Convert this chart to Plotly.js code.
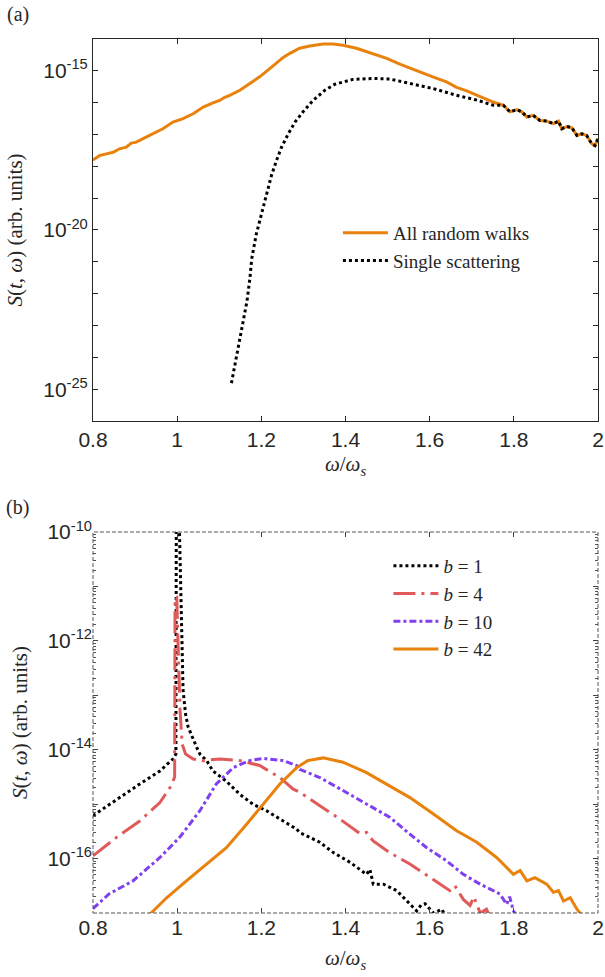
<!DOCTYPE html>
<html>
<head>
<meta charset="utf-8">
<script src="https://cdn.plot.ly/plotly-3.0.1.min.js"></script>
<style>html,body{margin:0;padding:0;background:#fff;}</style>
</head>
<body>
<div id="chart" style="width:605px;height:977px;"></div>
<script>
// ---------- Panel (a) data (x = omega/omega_s, values given as log10 S) ----------
const aAllX = [0.800,0.816,0.832,0.848,0.863,0.879,0.891,0.903,0.919,0.943,
  0.966,0.990,1.014,1.038,1.062,1.085,1.101,1.113,1.125,1.149,1.172,
  1.196,1.220,1.236,1.252,1.268,1.284,1.291,1.315,1.347,1.371,
  1.394,1.426,1.450,1.474,1.498,1.529,1.553,1.585,1.609,1.640,
  1.664,1.688,1.712,1.735,1.751,1.775,1.791,1.807,1.819,1.831,
  1.846,1.862,1.878,1.894,1.906,1.914,1.926,1.938,1.950,1.962,
  1.973,1.985,1.993,2.000];
const aAllLog = [-17.80,-17.66,-17.61,-17.56,-17.45,-17.40,-17.27,-17.24,-17.13,-16.98,
  -16.82,-16.61,-16.50,-16.35,-16.14,-16.01,-15.93,-15.83,-15.77,-15.61,-15.40,
  -15.19,-14.93,-14.75,-14.58,-14.45,-14.35,-14.29,-14.22,-14.16,-14.16,
  -14.20,-14.29,-14.40,-14.50,-14.61,-14.79,-14.92,-15.08,-15.20,-15.35,
  -15.52,-15.63,-15.77,-15.90,-15.98,-16.08,-16.29,-16.22,-16.29,-16.45,
  -16.40,-16.56,-16.58,-16.66,-16.58,-16.82,-16.75,-16.79,-17.03,-16.98,
  -17.03,-17.29,-17.35,-17.13];

const aSingleX = [1.129,1.143,1.156,1.166,1.173,1.177,1.188,1.200,1.212,1.224,
  1.236,1.248,1.264,1.280,1.299,1.323,1.351,1.375,1.418,1.466,
  1.506,1.553,1.609,1.664,1.712,1.751,1.775,1.791,1.807,1.819,
  1.831,1.846,1.862,1.878,1.894,1.906,1.914,1.926,1.938,1.950,
  1.962,1.973,1.985,1.993,2.000];
const aSingleLog = [-24.81,-23.81,-22.97,-22.23,-21.50,-20.92,-20.13,-19.50,-18.87,-18.29,
  -17.82,-17.40,-16.98,-16.61,-16.29,-15.93,-15.61,-15.42,-15.27,-15.24,
  -15.26,-15.40,-15.56,-15.77,-15.92,-16.08,-16.08,-16.29,-16.22,-16.29,
  -16.45,-16.40,-16.56,-16.58,-16.66,-16.58,-16.82,-16.75,-16.79,-17.03,
  -16.98,-17.03,-17.29,-17.35,-17.13];

// ---------- Panel (b) data ----------
const b1X = [0.800,0.856,0.911,0.959,0.990,0.997,0.998,1.004,1.007,1.011,
  1.014,1.020,1.026,1.046,1.054,1.070,1.085,1.117,1.149,1.180,
  1.212,1.252,1.284,1.291,1.339,1.371,1.411,1.450,1.458,1.466,
  1.490,1.522,1.545,1.569,1.580,1.589,1.609,1.629,1.640];
const b1Log = [-15.21,-14.91,-14.63,-14.39,-14.17,-14.08,-9.50,-9.50,-10.50,-12.00,
  -12.90,-13.35,-13.58,-13.95,-14.08,-14.20,-14.39,-14.58,-14.82,-15.00,
  -15.12,-15.31,-15.46,-15.52,-15.70,-15.89,-16.07,-16.29,-16.20,-16.47,
  -16.47,-16.59,-16.78,-16.96,-16.85,-16.83,-17.00,-16.93,-17.10];

const b4X = [0.800,0.856,0.911,0.959,0.986,0.994,0.995,0.999,1.003,1.007,
  1.012,1.020,1.038,1.062,1.101,1.149,1.196,1.244,1.275,1.291,
  1.339,1.386,1.434,1.450,1.465,1.505,1.553,1.609,1.648,1.660,
  1.680,1.696,1.705,1.720,1.735,1.745];
const b4Log = [-15.95,-15.61,-15.31,-14.97,-14.66,-14.50,-11.20,-11.20,-12.30,-13.30,
  -13.90,-14.08,-14.17,-14.20,-14.17,-14.20,-14.29,-14.51,-14.72,-14.78,
  -15.03,-15.27,-15.54,-15.52,-15.67,-15.89,-16.10,-16.38,-16.59,-16.50,
  -16.75,-16.86,-16.70,-17.00,-16.93,-17.10];

const b10X = [0.800,0.838,0.895,0.959,1.006,1.054,1.093,1.133,1.172,1.204,
  1.252,1.284,1.291,1.339,1.394,1.450,1.505,1.553,1.593,1.640,
  1.680,1.720,1.751,1.767,1.783,1.790,1.799,1.810];
const b10Log = [-16.92,-16.65,-16.41,-15.98,-15.61,-15.12,-14.63,-14.33,-14.20,-14.16,
  -14.20,-14.29,-14.36,-14.51,-14.75,-15.00,-15.24,-15.55,-15.80,-16.04,
  -16.29,-16.47,-16.59,-16.65,-16.84,-16.70,-16.96,-17.10];

const b42X = [0.925,0.975,1.022,1.070,1.117,1.165,1.204,1.244,1.284,1.310,
  1.347,1.394,1.450,1.505,1.553,1.609,1.664,1.712,1.759,1.799,
  1.815,1.831,1.850,1.878,1.894,1.906,1.918,1.934,1.950,1.962];
const b42Log = [-17.10,-16.72,-16.41,-16.10,-15.80,-15.37,-15.00,-14.63,-14.33,-14.20,
  -14.15,-14.23,-14.42,-14.66,-14.88,-15.18,-15.49,-15.70,-15.98,-16.29,
  -16.22,-16.41,-16.35,-16.47,-16.62,-16.59,-16.78,-16.72,-16.93,-17.05];

// ---------- Tick labels ----------
const xTickVals = [0.8, 1, 1.2, 1.4, 1.6, 1.8, 2];
const aYTickVals = [1e-25, 1e-20, 1e-15];
const aYTickText = ['10<sup>-25</sup>', '10<sup>-20</sup>', '10<sup>-15</sup>'];
const aYMinorVals = [1e-26,1e-25,1e-24,1e-23,1e-22,1e-21,1e-20,1e-19,1e-18,1e-17,1e-16,1e-15,1e-14];
const bYTickVals = [1e-17, 1e-16, 1e-15, 1e-14, 1e-13, 1e-12, 1e-11, 1e-10];
const bYTickText = ['', '10<sup>-16</sup>', '', '10<sup>-14</sup>', '', '10<sup>-12</sup>', '', '10<sup>-10</sup>'];

const legendA = ['All random walks', 'Single scattering'];
const legendB = ['<i>b</i> = 1', '<i>b</i> = 4', '<i>b</i> = 10', '<i>b</i> = 42'];

// ---------- helpers ----------
const pow10 = arr => arr.map(v => Math.pow(10, v));
const bMinorVals = [];
for (let e = -17; e < -10; e++) {
  for (let m = 2; m <= 9; m++) bMinorVals.push(m * Math.pow(10, e));
}

const ORANGE = '#e8820c', RED = '#e05a5a', PURPLE = '#8040f0', BLACK = '#000000';
const AX = '#262626';
const tickFont = {family: 'Liberation Sans, Arial, sans-serif', size: 21, color: AX};
const serif = 'Liberation Serif, Times New Roman, serif';

const traces = [
  {x: aAllX, y: pow10(aAllLog), xaxis: 'x', yaxis: 'y', mode: 'lines', name: legendA[0],
   line: {color: ORANGE, width: 3}, legend: 'legend'},
  {x: aSingleX, y: pow10(aSingleLog), xaxis: 'x', yaxis: 'y', mode: 'lines', name: legendA[1],
   line: {color: BLACK, width: 3, dash: 'dot'}, legend: 'legend'},
  {x: b1X, y: pow10(b1Log), xaxis: 'x2', yaxis: 'y2', mode: 'lines', name: legendB[0],
   line: {color: BLACK, width: 3, dash: 'dot'}, legend: 'legend2'},
  {x: b4X, y: pow10(b4Log), xaxis: 'x2', yaxis: 'y2', mode: 'lines', name: legendB[1],
   line: {color: RED, width: 3, dash: '22px,6px,3px,6px'}, legend: 'legend2'},
  {x: b10X, y: pow10(b10Log), xaxis: 'x2', yaxis: 'y2', mode: 'lines', name: legendB[2],
   line: {color: PURPLE, width: 3, dash: '7px,3px,3px,3px'}, legend: 'legend2'},
  {x: b42X, y: pow10(b42Log), xaxis: 'x2', yaxis: 'y2', mode: 'lines', name: legendB[3],
   line: {color: ORANGE, width: 3}, legend: 'legend2'}
];

const xTitleText = '<i>ω</i>/<i>ω</i><sub><i>s</i></sub>';
const yTitle = {text: '<i>S</i>(<i>t</i>, <i>ω</i>) (arb. units)', font: {family: serif, size: 21, color: AX}, standoff: 14};

const baseX = {
  range: [0.8, 2], tickmode: 'array', tickvals: xTickVals, ticks: 'inside', ticklen: 5,
  tickcolor: AX, tickfont: tickFont, showgrid: false, zeroline: false, automargin: false,
  mirror: 'ticks'
};

// plot area: top 0, bottom margin 40 -> height 937 px
const layout = {
  width: 605, height: 977,
  margin: {l: 93, r: 7, t: 0, b: 40},
  paper_bgcolor: '#ffffff', plot_bgcolor: '#ffffff',
  showlegend: true,
  xaxis: Object.assign({}, baseX, {anchor: 'y', domain: [0, 1], showline: true, linecolor: AX, linewidth: 1,
    title: {text: xTitleText, font: {family: serif, size: 21, color: AX}, standoff: 6}}),
  yaxis: {
    type: 'log', range: [-26, -14], domain: [0.5507, 0.9584], anchor: 'x',
    tickmode: 'array', tickvals: aYTickVals, ticktext: aYTickText,
    ticks: 'inside', ticklen: 5, tickcolor: AX, tickfont: tickFont,
    minor: {tickmode: 'array', tickvals: aYMinorVals, ticks: 'inside', ticklen: 5, tickcolor: AX, showgrid: false},
    showline: true, linecolor: AX, linewidth: 1, mirror: 'ticks',
    showgrid: false, zeroline: false, automargin: false, title: yTitle
  },
  xaxis2: Object.assign({}, baseX, {anchor: 'y2', domain: [0, 1], showline: false, tickcolor: '#444',
    title: {text: xTitleText, font: {family: serif, size: 21, color: AX}, standoff: 12}}),
  yaxis2: {
    type: 'log', range: [-17, -10], domain: [0.0256, 0.4322], anchor: 'x2',
    tickmode: 'array', tickvals: bYTickVals, ticktext: bYTickText,
    ticks: 'inside', ticklen: 5, tickcolor: '#444', tickfont: tickFont,
    minor: {tickmode: 'array', tickvals: bMinorVals, ticks: 'inside', ticklen: 3, tickcolor: '#555', showgrid: false},
    showline: false, mirror: 'ticks',
    showgrid: false, zeroline: false, automargin: false, title: yTitle
  },
  legend: {
    x: 0.485, xanchor: 'left', y: 0.7716, yanchor: 'top', itemwidth: 45,
    bgcolor: 'rgba(0,0,0,0)', font: {family: serif, size: 19, color: AX},
    tracegroupgap: 0
  },
  legend2: {
    x: 0.585, xanchor: 'left', y: 0.4162, yanchor: 'top', itemwidth: 45,
    bgcolor: 'rgba(0,0,0,0)', font: {family: serif, size: 19, color: AX},
    tracegroupgap: 0
  },
  shapes: [
    {type: 'rect', xref: 'x2 domain', yref: 'y2 domain', x0: 0, x1: 1, y0: 0, y1: 1,
     line: {color: '#555', width: 1, dash: '4px,2px'}, fillcolor: 'rgba(0,0,0,0)'}
  ],
  annotations: [
    {text: '(a)', xref: 'paper', yref: 'paper', x: -0.149, y: 0.984, xanchor: 'center', yanchor: 'middle',
     showarrow: false, font: {family: serif, size: 20, color: AX}},
    {text: '(b)', xref: 'paper', yref: 'paper', x: -0.149, y: 0.4589, xanchor: 'center', yanchor: 'middle',
     showarrow: false, font: {family: serif, size: 20, color: AX}}
  ]
};

Plotly.newPlot('chart', traces, layout, {staticPlot: true, displayModeBar: false});
</script>
</body>
</html>
